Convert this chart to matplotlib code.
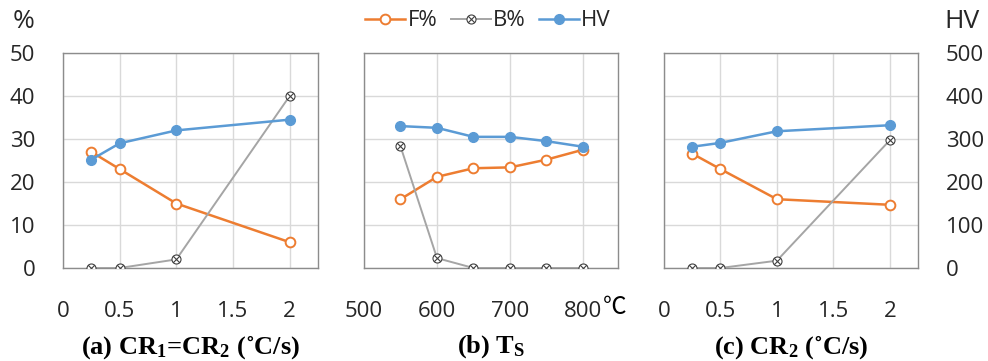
import matplotlib
matplotlib.use("Agg")
import matplotlib.pyplot as plt
from matplotlib.path import Path
import numpy as np

plt.rcParams['font.family'] = ['Open Sans', 'DejaVu Sans']
plt.rcParams['mathtext.fontset'] = 'custom'
plt.rcParams['mathtext.rm'] = 'Liberation Serif'
plt.rcParams['mathtext.bf'] = 'Liberation Serif:bold'
plt.rcParams['mathtext.it'] = 'Liberation Serif:italic'

# ---- data ----
cr_x = [0.25, 0.5, 1, 2]
a_F = [27, 23, 15, 6]
a_B = [0, 0, 2, 40]
a_HV = [252, 290, 320, 345]

ts_x = [550, 600, 650, 700, 750, 800]
b_F = [16, 21.2, 23.2, 23.4, 25.2, 27.5]
b_B = [28.3, 2.3, 0, 0, 0, 0]
b_HV = [330, 326, 305, 305, 295, 282]

c_F = [26.6, 23, 16, 14.7]
c_B = [0, 0, 1.7, 29.7]
c_HV = [282, 291, 318, 332]

pct_ticks = [0, 10, 20, 30, 40, 50]
hv_ticks = [0, 100, 200, 300, 400, 500]
cr_ticks = [0, 0.5, 1, 1.5, 2]
cr_ticklabels = ['0', '0.5', '1', '1.5', '2']
ts_ticks = [500, 600, 700, 800]
titles = ['(a) CR$_\\mathbf{1}$=CR$_\\mathbf{2}$ (˚C/s)', '(b) T$_\\mathbf{S}$', '(c) CR$_\\mathbf{2}$ (˚C/s)']
legend_labels = ['F%', 'B%', 'HV']

# ---- styles ----
ORANGE = '#ED7D31'
GREY = '#A5A5A5'
BLUE = '#5B9BD5'
GRID = '#D9D9D9'
FRAME = '#8C8C8C'
TXT = '#262626'
FS = 16

circ = Path.unit_circle()
d = 0.7071
verts = list(circ.vertices) + [(-d, -d), (d, d), (-d, d), (d, -d)]
codes = list(circ.codes) + [Path.MOVETO, Path.LINETO, Path.MOVETO, Path.LINETO]
circx = Path(verts, codes)

W, H = 988, 361
fig = plt.figure(figsize=(W / 100, H / 100), dpi=100)
bottom = 1 - 268 / H
height = (268 - 53) / H
lefts = [63, 364, 664]
widths = [255, 254, 254]

panels = [
    (cr_x, a_F, a_B, a_HV, (0, 2.25), cr_ticks, cr_ticklabels),
    (ts_x, b_F, b_B, b_HV, (500, 848), ts_ticks, [str(t) for t in ts_ticks]),
    (cr_x, c_F, c_B, c_HV, (0, 2.25), cr_ticks, cr_ticklabels),
]

handles = None
for i, (xs, F, B, HV, xlim, xt, xtl) in enumerate(panels):
    ax = fig.add_axes([lefts[i] / W, bottom, widths[i] / W, height])
    ax.set_xlim(*xlim)
    ax.set_ylim(0, 50)
    ax.set_xticks(xt)
    ax.set_xticklabels(xtl)
    ax.set_yticks(pct_ticks)
    ax.grid(True, color=GRID, lw=1)
    ax.set_axisbelow(True)
    for s in ax.spines.values():
        s.set_color(FRAME)
        s.set_linewidth(1)
    ax.tick_params(length=0, labelsize=FS, colors=TXT, pad=20)
    ax.tick_params(axis='x', pad=24)
    if i != 0:
        ax.set_yticklabels([])
    hF, = ax.plot(xs, F, color=ORANGE, lw=1.8, marker='o', ms=7,
                  mfc='white', mec=ORANGE, mew=1.4, label=legend_labels[0], zorder=3)
    hB, = ax.plot(xs, B, color=GREY, lw=1.4, marker=circx, ms=6.5,
                  mfc='white', mec='#404040', mew=0.8, label=legend_labels[1], zorder=3)
    ax2 = ax.twinx()
    ax2.set_ylim(0, 500)
    ax2.set_yticks(hv_ticks)
    for s in ax2.spines.values():
        s.set_visible(False)
    ax2.tick_params(length=0, labelsize=FS, colors=TXT, pad=20)
    if i != 2:
        ax2.set_yticklabels([])
    hH, = ax2.plot(xs, HV, color=BLUE, lw=1.8, marker='o', ms=7,
                   mfc=BLUE, mec=BLUE, label=legend_labels[2], zorder=3)
    handles = [hF, hB, hH]
    cx = (lefts[i] + widths[i] / 2) / W
    fig.text(cx, 1 - 347 / H, titles[i], ha='center', va='center',
             family='Liberation Serif', fontweight='bold', fontsize=19, color='black')

fig.text(603 / W, 1 - 308 / H, '℃', ha='left', va='center', fontsize=17,
         color='black', family=['Noto Sans CJK KR', 'DejaVu Sans'])
fig.text(13 / W, 1 - 22 / H, '%', ha='left', va='center', fontsize=19, color=TXT)
fig.text(944 / W, 1 - 22 / H, 'HV', ha='left', va='center', fontsize=19, color=TXT)

fig.legend(handles, legend_labels, loc='center', bbox_to_anchor=(488 / W, 1 - 21 / H),
           ncol=3, frameon=False, fontsize=FS, handlelength=1.8, handletextpad=0.1,
           columnspacing=0.6, labelcolor=TXT)

fig.savefig('out.png', dpi=100)
